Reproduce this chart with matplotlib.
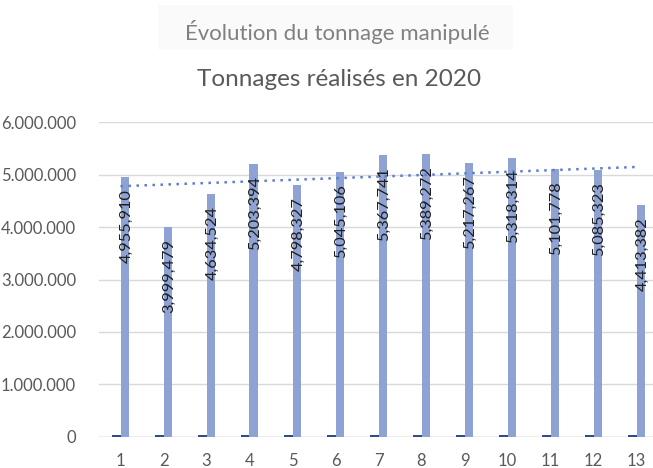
import numpy as np
import matplotlib
matplotlib.use("Agg")
import matplotlib.pyplot as plt
from matplotlib.ticker import FuncFormatter
from matplotlib.patches import Rectangle

plt.rcParams['font.family'] = ['Lato', 'DejaVu Sans']

periodes = ['1', '2', '3', '4', '5', '6', '7', '8', '9', '10', '11', '12', '13']
tonnage = [4955910, 3999479, 4634524, 5203394, 4798327, 5045106, 5367741,
           5389272, 5217267, 5318314, 5101778, 5085323, 4413382]
# petite serie foncee a gauche de chaque barre (quasi nulle)
serie2 = [25000, 25000, 25000, 25000, 25000, 25000, 25000,
          25000, 25000, 25000, 25000, 25000, 25000]

W, H = 653, 468
fig = plt.figure(figsize=(W / 100, H / 100), dpi=100)
# axes extends past the right edge, like the cropped screenshot
ax = fig.add_axes([99 / W, (H - 436.7) / H, 559 / W, 314.4 / H])

x = np.arange(1, len(periodes) + 1)
w = 0.2
ax.bar(x - w / 2, serie2, width=w, color='#2F4D8A', zorder=3)
ax.bar(x + w / 2, tonnage, width=w, color='#8EA3D4', zorder=3)

# linear trend (Excel style)
k, b = np.polyfit(x, tonnage, 1)
ax.plot(x, k * x + b, color='#5B7FD0', lw=1.8, linestyle=(0, (1, 2.2)), zorder=4)

for xi, v in zip(x, tonnage):
    ax.annotate(f"{v:,}", xy=(xi + w / 2 + 0.04, v), xytext=(0, -8.5),
                textcoords='offset points', rotation=90, ha='center', va='top',
                fontsize=11.8, color='#1E1E1E', zorder=5)

ax.set_xlim(0.5, len(periodes) + 0.5)
ax.set_ylim(0, 6000000)
ax.set_yticks(np.arange(0, 6000001, 1000000))
ax.yaxis.set_major_formatter(FuncFormatter(lambda v, p: f"{int(v):,}".replace(',', '.')))
ax.set_xticks(x)
ax.set_xticklabels(periodes)
ax.grid(axis='y', color='#D9D9D9', lw=1, zorder=0)
for s in ax.spines.values():
    s.set_visible(False)
ax.axhline(0, color='#C8C8C8', lw=1, zorder=2)
ax.tick_params(length=0, labelsize=12, colors='#595959')
ax.tick_params(axis='y', pad=16.5)
ax.tick_params(axis='x', pad=12)

# faint box behind the first title
fig.patches.append(Rectangle((158 / W, 1 - 50 / H), 355 / W, 45 / H,
                             transform=fig.transFigure, facecolor='#FAFAFA',
                             edgecolor='none', zorder=0))
fig.text(337 / W, 1 - 32 / H, "Évolution du tonnage manipulé", ha='center', va='center',
         fontsize=16, color='#808080')
fig.text(339 / W, 1 - 80 / H, "Tonnages réalisés en 2020", ha='center', va='center',
         fontsize=17.5, color='#595959')

fig.savefig('out.png', dpi=100)
